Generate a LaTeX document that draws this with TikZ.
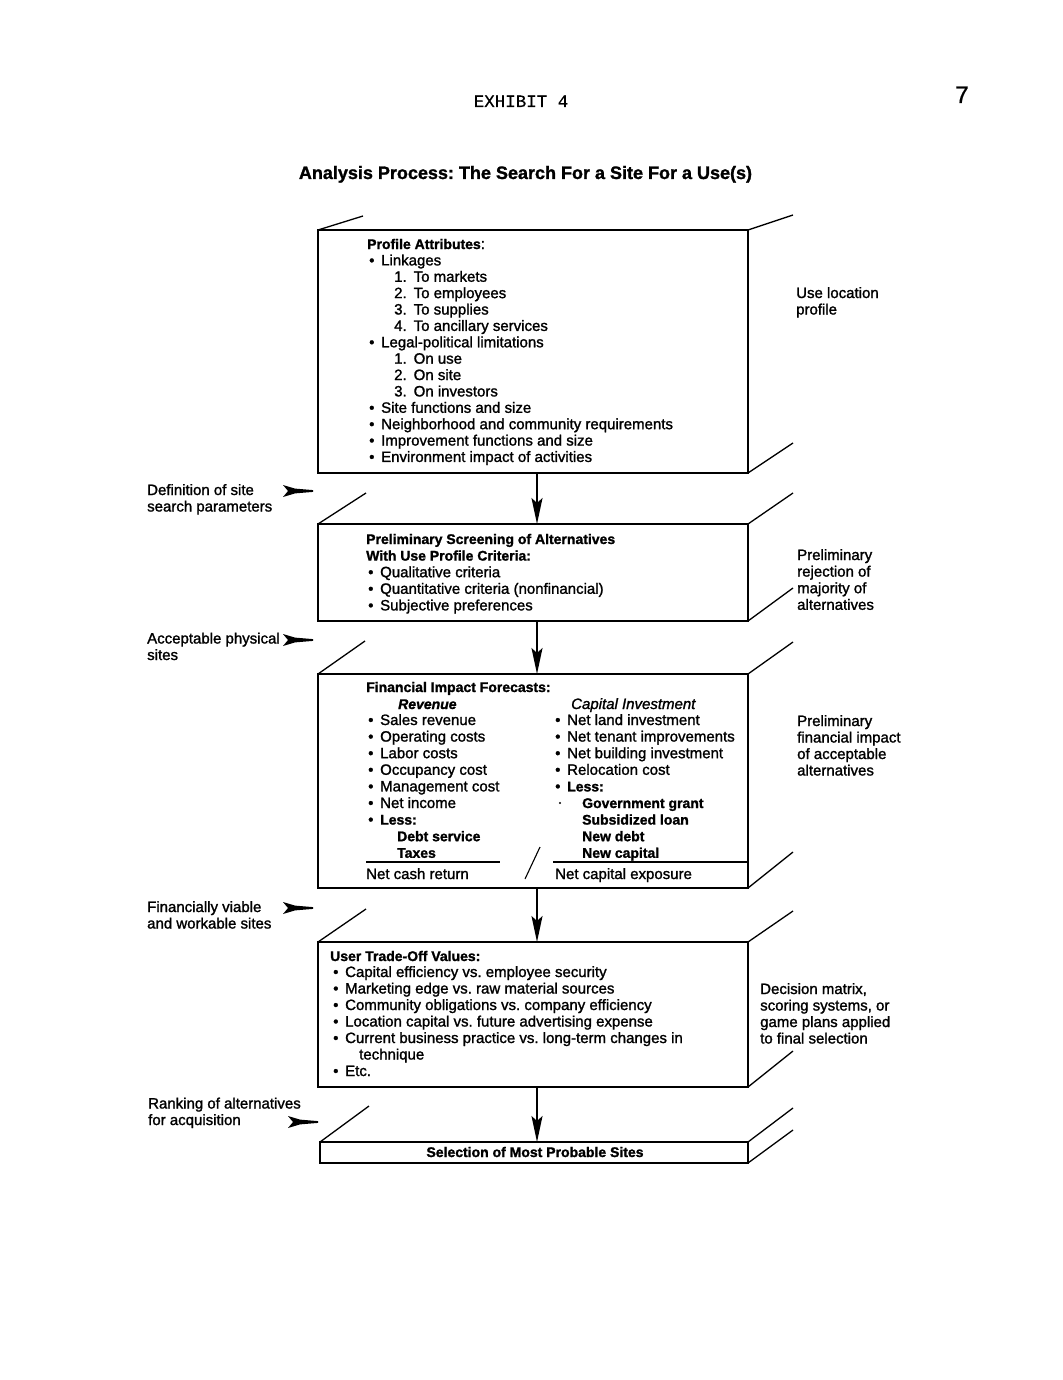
\documentclass[tikz,border=0pt]{standalone}
\usepackage{fontspec}
\setmainfont{Liberation Sans}[FakeBold=1.4]
\newfontfamily\typew{Liberation Mono}[FakeBold=0.4]
\usetikzlibrary{arrows.meta}
\newcommand\bul{\makebox[12pt][l]{•}}
\newcommand\nm[1]{\makebox[19.5pt][l]{#1}}
\newcommand\hd[1]{{\fontsize{14}{18}\selectfont\bfseries #1}}
\frenchspacing
\begin{document}
\begin{tikzpicture}[x=1pt,y=-1pt,
  tx/.style={anchor=base west, inner sep=0pt, font=\fontsize{15}{18}\selectfont},
  box/.style={draw, line width=1.6pt, anchor=north west, inner sep=0pt, outer sep=0pt, minimum width=430pt},
  diag/.style={line width=1.3pt},
  arr/.style={line width=1.8pt, -{Stealth[length=26pt,width=11pt,inset=5pt]}},
  rule/.style={line width=1.2pt},
  chev/.pic={\fill (-30,-6) -- (-18,-2.4) -- (0,-0.9) -- (0,0.9) -- (-18,2.4) -- (-30,6) -- (-25,0) -- cycle;}
]
\useasboundingbox (0,0) rectangle (1062,1380);
\fill[white] (0,0) rectangle (1062,1380);

% headers
\node[anchor=base, inner sep=0pt, font=\typew\fontsize{17.5}{20}\selectfont] (exh) at (521,107) {EXHIBIT 4};
\node[anchor=base, inner sep=0pt, font=\typew\fontsize{25}{28}\selectfont] (pg) at (962,103) {7};
\node[anchor=base, inner sep=0pt, font=\fontsize{18}{22}\selectfont\bfseries] (title) at (525.5,179) {Analysis Process: The Search For a Site For a Use(s)};

% boxes
\node[box, minimum height=243pt] (b1) at (318,230) {};
\node[box, minimum height=97pt] (b2) at (318,524) {};
\node[box, minimum height=214pt] (b3) at (318,674) {};
\node[box, minimum height=145pt] (b4) at (318,942) {};
\node[box, minimum height=21pt, minimum width=428pt] (b5) at (320,1142) {};

% stack diagonals
\draw[diag] (b1.north west) -- ++(45,-14);
\draw[diag] (b1.north east) -- ++(45,-15);
\draw[diag] (b1.south east) -- ++(45,-30);
\draw[diag] (b2.north west) -- ++(48,-31);
\draw[diag] (b2.north east) -- ++(45,-31);
\draw[diag] (b2.south east) -- ++(45,-33);
\draw[diag] (b3.north west) -- ++(47,-33);
\draw[diag] (b3.north east) -- ++(45,-32);
\draw[diag] (b3.south east) -- ++(45,-36);
\draw[diag] (b4.north west) -- ++(48,-33);
\draw[diag] (b4.north east) -- ++(45,-31);
\draw[diag] (b4.south east) -- ++(45,-36);
\draw[diag] (b5.north west) -- ++(49,-36);
\draw[diag] (b5.north east) -- ++(45,-34);
\draw[diag] (b5.south east) -- ++(45,-33);

% arrows
\coordinate (ax) at (537,0);
\draw[arr] (b1.south -| ax) -- (b2.north -| ax);
\draw[arr] (b2.south -| ax) -- (b3.north -| ax);
\draw[arr] (b3.south -| ax) -- (b4.north -| ax);
\draw[arr] (b4.south -| ax) -- (b5.north -| ax);

% box 1 text
\foreach \x/\t [count=\i from 0] in {
  367/{\hd{Profile Attributes}:},
  369/{\bul Linkages},
  394/{\nm{1.}To markets},
  394/{\nm{2.}To employees},
  394/{\nm{3.}To supplies},
  394/{\nm{4.}To ancillary services},
  369/{\bul Legal-political limitations},
  394/{\nm{1.}On use},
  394/{\nm{2.}On site},
  394/{\nm{3.}On investors},
  369/{\bul Site functions and size},
  369/{\bul Neighborhood and community requirements},
  369/{\bul Improvement functions and size},
  369/{\bul Environment impact of activities}}
  \node[tx] (pa\i) at (\x,249+\i*16.38) {\t};

% box 2 text
\foreach \x/\t [count=\i from 0] in {
  366/{\hd{Preliminary Screening of Alternatives}},
  366/{\hd{With Use Profile Criteria:}},
  368/{\bul Qualitative criteria},
  368/{\bul Quantitative criteria (nonfinancial)},
  368/{\bul Subjective preferences}}
  \node[tx] (ps\i) at (\x,544+\i*16.6) {\t};

% box 3 text
\node[tx] (fh) at (366,692) {\hd{Financial Impact Forecasts:}};
\node[tx] (frev) at (398,709) {\hd{\itshape Revenue}};
\node[tx] (fcap) at (571,709) {\itshape Capital Investment};
\foreach \x/\t [count=\i from 0] in {
  368/{\bul Sales revenue},
  368/{\bul Operating costs},
  368/{\bul Labor costs},
  368/{\bul Occupancy cost},
  368/{\bul Management cost},
  368/{\bul Net income},
  368/{\bul \hd{Less:}},
  397/{\hd{Debt service}},
  397/{\hd{Taxes}}}
  \node[tx] (fl\i) at (\x,725+\i*16.6) {\t};
\foreach \x/\t [count=\i from 0] in {
  555/{\bul Net land investment},
  555/{\bul Net tenant improvements},
  555/{\bul Net building investment},
  555/{\bul Relocation cost},
  555/{\bul \hd{Less:}},
  582/{\hd{Government grant}},
  582/{\hd{Subsidized loan}},
  582/{\hd{New debt}},
  582/{\hd{New capital}}}
  \node[tx] (fr\i) at (\x,725+\i*16.6) {\t};
\fill (560,803) circle (1.2);
\draw[rule] (366,862) -- (500,862);
\draw[rule] (553,862) -- (b3.east |- 0,862);
\draw[line width=1.1pt] (540,847) -- (525,879);
\node[tx] (fnet) at (366,879) {Net cash return};
\node[tx] (fexp) at (555,879) {Net capital exposure};

% box 4 text
\node[tx] (uh) at (330,961) {\hd{User Trade-Off Values:}};
\foreach \x/\t [count=\i from 0] in {
  333/{\bul Capital efficiency vs. employee security},
  333/{\bul Marketing edge vs. raw material sources},
  333/{\bul Community obligations vs. company efficiency},
  333/{\bul Location capital vs. future advertising expense},
  333/{\bul Current business practice vs. long-term changes in},
  359/{technique},
  333/{\bul Etc.}}
  \node[tx] (u\i) at (\x,977+\i*16.5) {\t};

% box 5 text
\node[anchor=base, inner sep=0pt] (sel) at (535,1157) {\hd{Selection of Most Probable Sites}};

% right labels
\node[tx] (r1a) at (796,298) {Use location};
\node[tx] (r1b) at (796,314.5) {profile};
\foreach \t [count=\i from 0] in {Preliminary, rejection of, majority of, alternatives}
  \node[tx] (r2\i) at (797,560+\i*16.6) {\t};
\foreach \t [count=\i from 0] in {Preliminary, financial impact, of acceptable, alternatives}
  \node[tx] (r3\i) at (797,726+\i*16.5) {\t};
\foreach \t [count=\i from 0] in {{Decision matrix,}, {scoring systems, or}, game plans applied, to final selection}
  \node[tx] (r4\i) at (760,994+\i*16.5) {\t};

% left labels
\node[tx] (l1a) at (147,495) {Definition of site};
\node[tx] (l1b) at (147,511.5) {search parameters};
\node[tx] (l2a) at (147,643.5) {Acceptable physical};
\node[tx] (l2b) at (147,660) {sites};
\node[tx] (l3a) at (147,912) {Financially viable};
\node[tx] (l3b) at (147,928.5) {and workable sites};
\node[tx] (l4a) at (148,1108.5) {Ranking of alternatives};
\node[tx] (l4b) at (148,1125) {for acquisition};
\pic at (313,491) {chev};
\pic at (313,640) {chev};
\pic at (313,908) {chev};
\pic at (318,1122) {chev};
\end{tikzpicture}
\end{document}
